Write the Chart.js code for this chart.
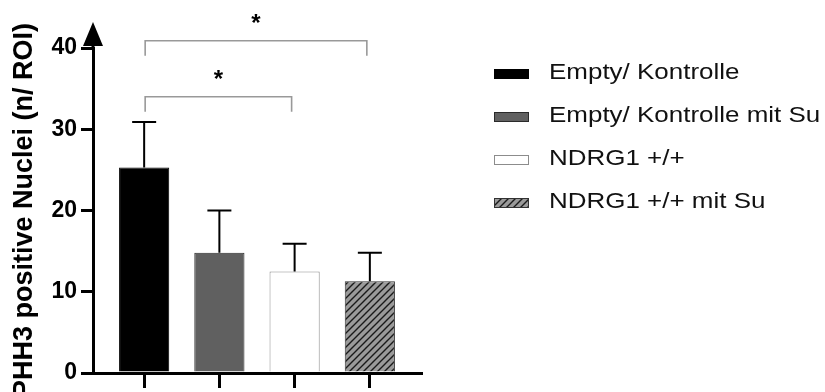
<!DOCTYPE html>
<html>
<head>
<meta charset="utf-8">
<title>PHH3 positive Nuclei</title>
<script src="https://cdn.jsdelivr.net/npm/chart.js@4.4.1/dist/chart.umd.min.js"></script>
<style>
  html, body { margin: 0; padding: 0; background: #ffffff; }
  canvas { display: block; }
</style>
</head>
<body>
<canvas id="chart" width="825" height="392"></canvas>
<script>
// Groups, means and standard deviations
const categories = ['Empty/ Kontrolle', 'Empty/ Kontrolle mit Su', 'NDRG1 +/+', 'NDRG1 +/+ mit Su'];
const means = [25.3, 14.8, 12.5, 11.3];
const sds = [5.6, 5.2, 3.4, 3.5];
const yTicks = [0, 10, 20, 30, 40];

// Significance comparisons: group pairs, bracket level (axis units) and marker
const comparisonPairs = [[0, 3], [0, 2]];
const comparisonLevels = [40.9, 34.0];
const comparisonMarks = ['*', '*'];

const FONT = "'Liberation Sans', Arial, Helvetica, sans-serif";

// Diagonal hatch fill for the last group
function hatchPattern(bg, lineColor, step) {
  const c = document.createElement('canvas');
  c.width = step; c.height = step;
  const g = c.getContext('2d');
  g.fillStyle = bg;
  g.fillRect(0, 0, step, step);
  g.strokeStyle = lineColor;
  g.lineWidth = 1.4;
  g.beginPath();
  g.moveTo(-1, step + 1); g.lineTo(step + 1, -1);
  g.moveTo(-1, 1); g.lineTo(1, -1);
  g.moveTo(step - 1, step + 1); g.lineTo(step + 1, step - 1);
  g.stroke();
  return g.createPattern(c, 'repeat');
}

const hatch = hatchPattern('#9a9a9a', '#1a1a1a', 7);
const fills = ['#000000', '#606060', '#ffffff', hatch];
const borders = ['#000000', '#2a2a2a', '#8c8c8c', '#333333'];

// Upward error bars (mean + SD)
const errorBars = {
  id: 'errorBars',
  afterDatasetsDraw(chart) {
    const { ctx, scales: { x, y } } = chart;
    ctx.save();
    ctx.strokeStyle = '#000';
    ctx.lineWidth = 2;
    means.forEach((m, i) => {
      const cx = x.getPixelForValue(i);
      const y0 = y.getPixelForValue(m);
      const y1 = y.getPixelForValue(m + sds[i]);
      ctx.beginPath();
      ctx.moveTo(cx, y0);
      ctx.lineTo(cx, y1);
      ctx.moveTo(cx - 12, y1);
      ctx.lineTo(cx + 12, y1);
      ctx.stroke();
    });
    ctx.restore();
  }
};

// Significance brackets with markers
const brackets = {
  id: 'brackets',
  afterDraw(chart) {
    const { ctx, scales: { x, y } } = chart;
    ctx.save();
    ctx.strokeStyle = '#999999';
    ctx.lineWidth = 1.6;
    comparisonPairs.forEach(([a, b], k) => {
      const xa = x.getPixelForValue(a) + 1;
      const xb = x.getPixelForValue(b) - 3;
      const yl = y.getPixelForValue(comparisonLevels[k]);
      ctx.beginPath();
      ctx.moveTo(xa, yl + 15);
      ctx.lineTo(xa, yl);
      ctx.lineTo(xb, yl);
      ctx.lineTo(xb, yl + 15);
      ctx.stroke();
      ctx.fillStyle = '#000';
      ctx.font = 'bold 24px ' + FONT;
      ctx.textAlign = 'center';
      ctx.textBaseline = 'alphabetic';
      ctx.fillText(comparisonMarks[k], (xa + xb) / 2, yl - 10);
    });
    ctx.restore();
  }
};

// Arrow head on top of the y axis
const axisArrow = {
  id: 'axisArrow',
  afterDraw(chart) {
    const { ctx, chartArea } = chart;
    const ax = chartArea.left;
    const top = chartArea.top;
    ctx.save();
    ctx.fillStyle = '#000';
    ctx.beginPath();
    ctx.moveTo(ax - 10, top - 2);
    ctx.lineTo(ax + 10, top - 2);
    ctx.lineTo(ax, top - 26);
    ctx.closePath();
    ctx.fill();
    ctx.fillRect(ax - 1.5, top - 4, 3, 6);
    ctx.restore();
  }
};

// Legend: swatches with labels
const groupLegend = {
  id: 'groupLegend',
  afterDraw(chart) {
    const { ctx } = chart;
    const x0 = 494, baseline0 = 79, rowGap = 43;
    ctx.save();
    categories.forEach((label, i) => {
      const base = baseline0 + i * rowGap;
      ctx.fillStyle = fills[i];
      ctx.fillRect(x0, base - 10, 35, 10);
      ctx.strokeStyle = borders[i];
      ctx.lineWidth = 1;
      ctx.strokeRect(x0 + 0.5, base - 9.5, 34, 9);
      ctx.fillStyle = '#111';
      ctx.font = '22px ' + FONT;
      ctx.textAlign = 'left';
      ctx.textBaseline = 'alphabetic';
      ctx.save();
      ctx.translate(x0 + 55, base);
      ctx.scale(1.18, 1);
      ctx.fillText(label, 0, 0);
      ctx.restore();
    });
    ctx.restore();
  }
};

new Chart(document.getElementById('chart'), {
  type: 'bar',
  data: {
    datasets: [{
      label: 'PHH3',
      data: means.map((v, i) => ({ x: i, y: v })),
      backgroundColor: fills,
      borderColor: borders,
      borderWidth: 1,
      barPercentage: 0.667,
      categoryPercentage: 1
    }]
  },
  options: {
    responsive: false,
    animation: false,
    devicePixelRatio: 1,
    layout: { padding: { top: 48, right: 404, bottom: 4, left: 0 } },
    plugins: {
      legend: { display: false },
      tooltip: { enabled: false }
    },
    scales: {
      x: {
        type: 'linear',
        offset: false,
        min: -0.68,
        max: 3.68,
        afterBuildTicks(scale) {
          scale.ticks = categories.map((_, i) => ({ value: i }));
        },
        ticks: { display: false },
        grid: {
          offset: false,
          drawOnChartArea: false,
          drawTicks: true,
          tickLength: 15,
          lineWidth: 3,
          color: '#000'
        },
        border: { display: true, color: '#000', width: 3 }
      },
      y: {
        min: 0,
        max: 40,
        afterBuildTicks(scale) {
          scale.ticks = yTicks.map(v => ({ value: v }));
        },
        afterFit(scale) { scale.width = 93; },
        ticks: {
          color: '#000',
          padding: 4,
          font: { family: FONT, size: 23, weight: 'bold' }
        },
        grid: {
          drawOnChartArea: false,
          drawTicks: true,
          tickLength: 12,
          lineWidth: 3,
          color: '#000'
        },
        border: { display: true, color: '#000', width: 3 },
        title: {
          display: true,
          text: 'PHH3 positive Nuclei (n/ ROI)',
          color: '#000',
          padding: { top: 8, bottom: 0 },
          font: { family: FONT, size: 27, weight: 'bold' }
        }
      }
    }
  },
  plugins: [errorBars, brackets, axisArrow, groupLegend]
});
</script>
</body>
</html>
